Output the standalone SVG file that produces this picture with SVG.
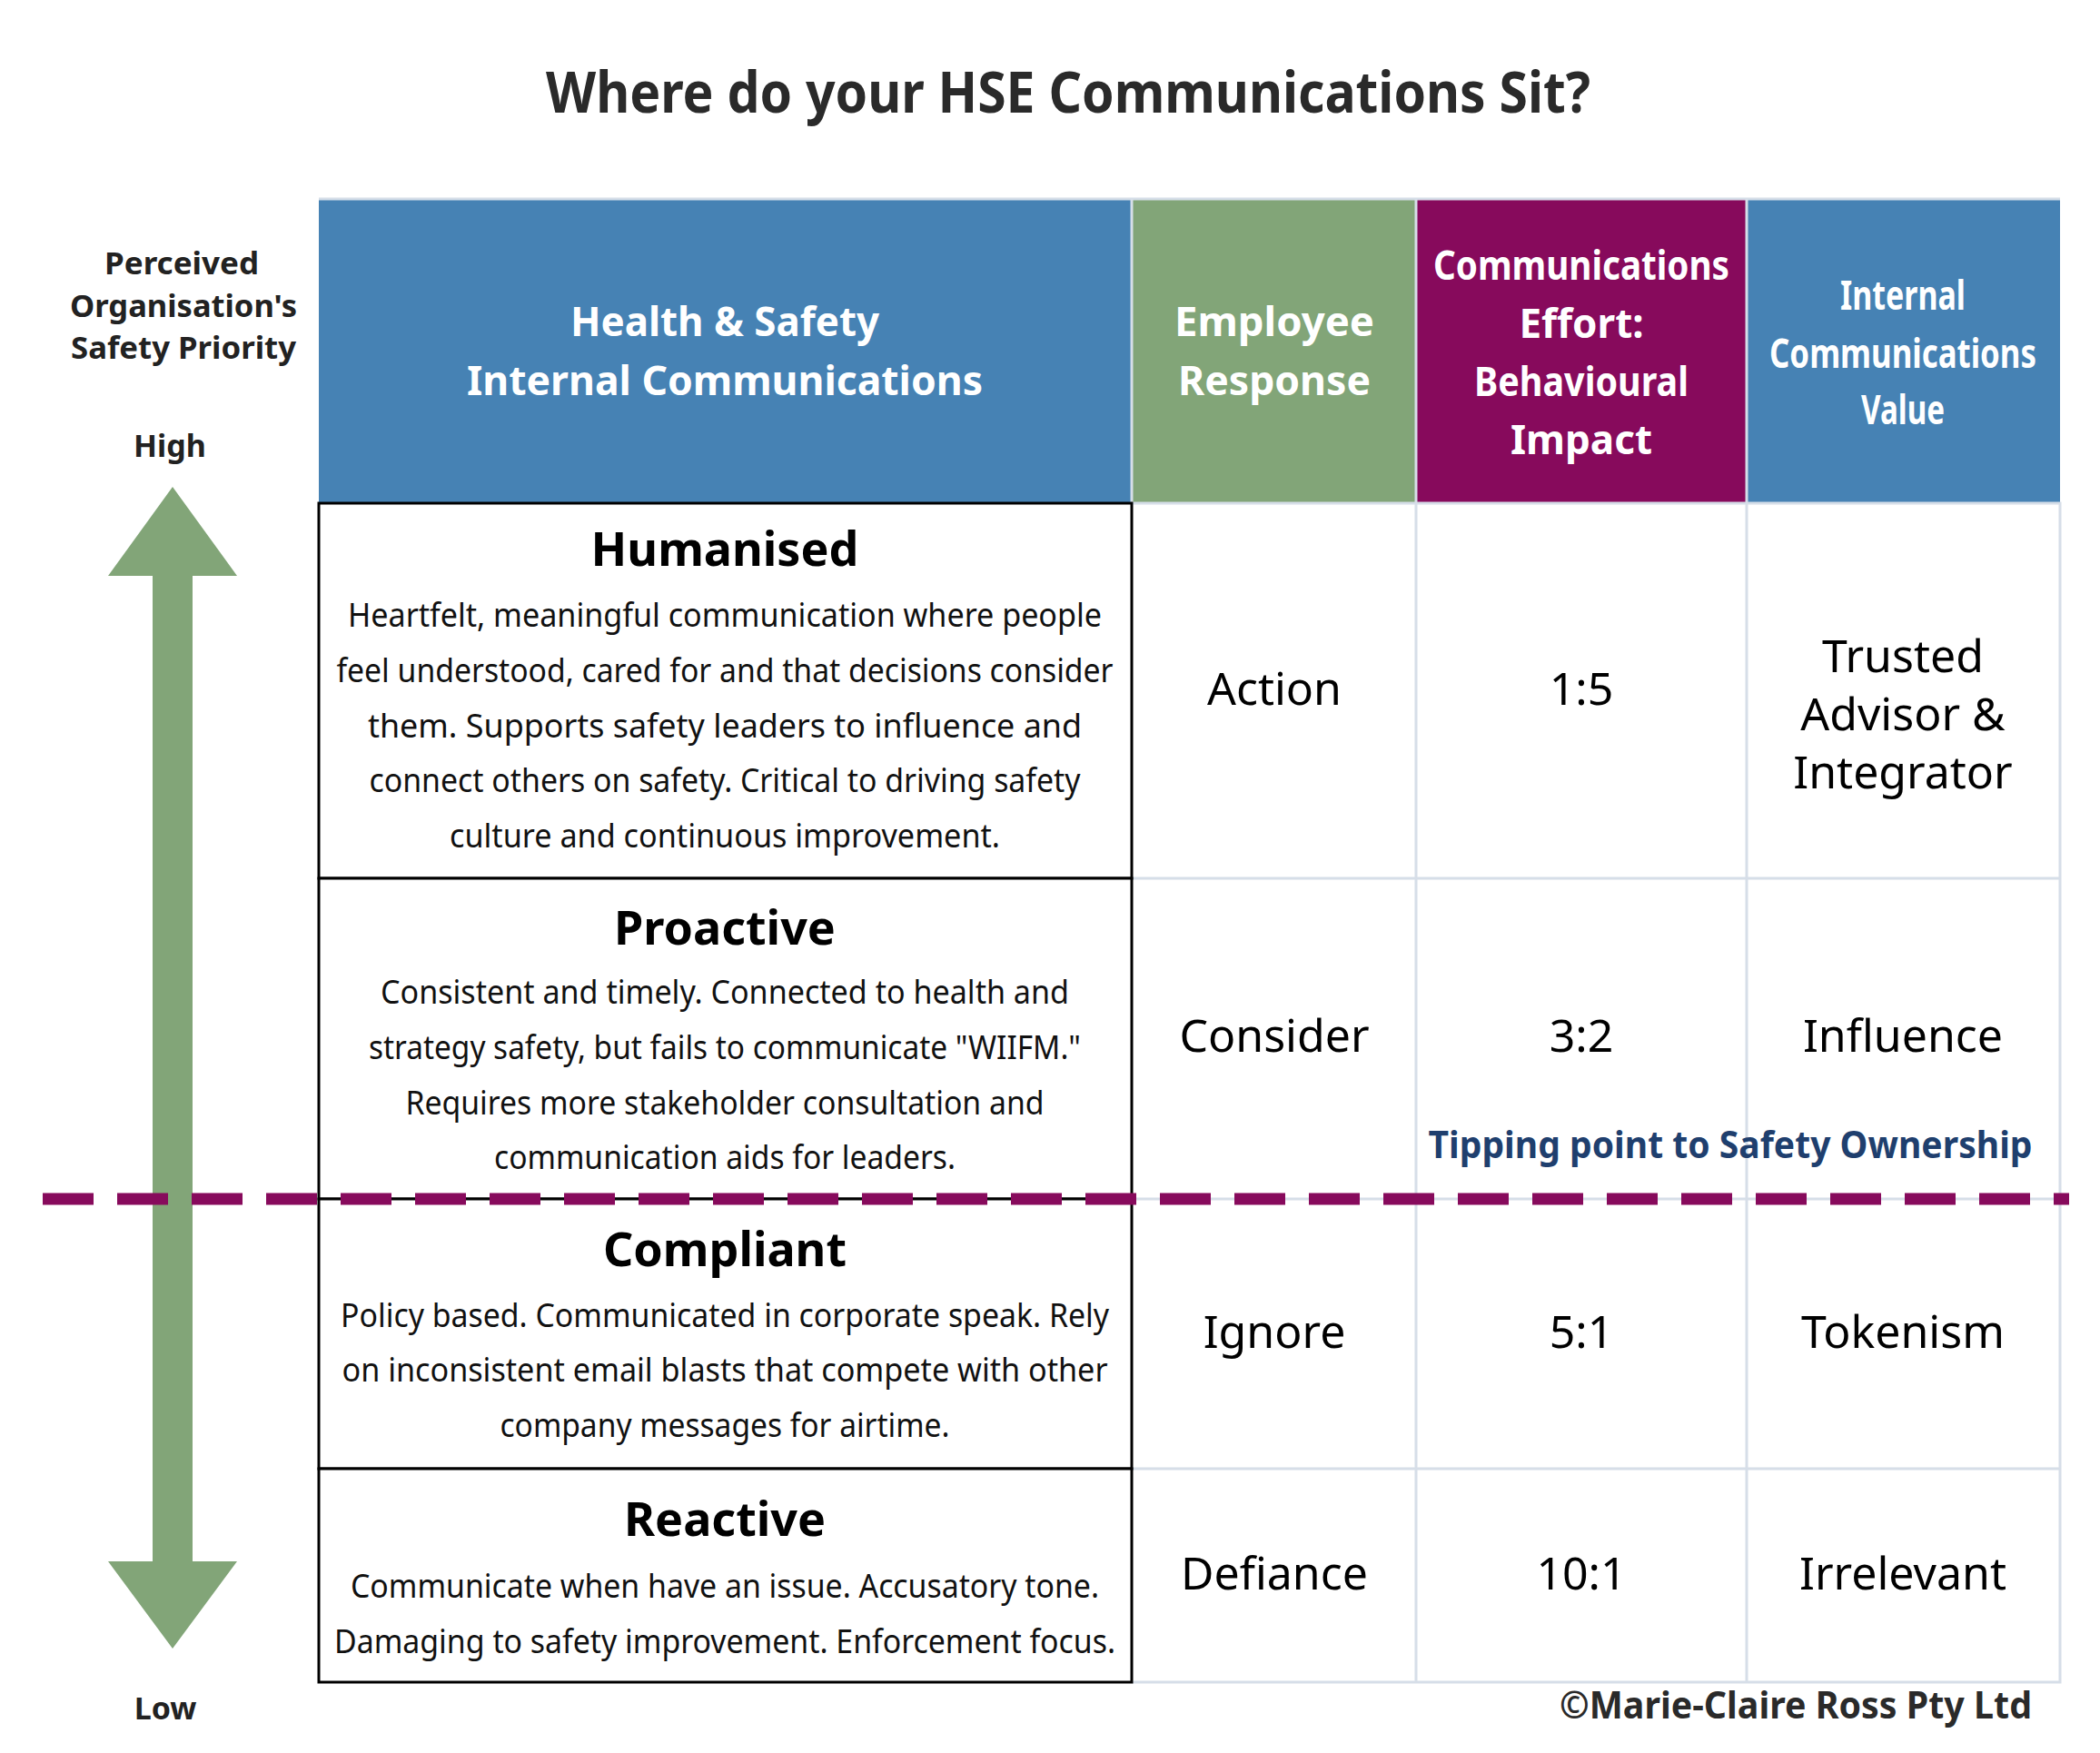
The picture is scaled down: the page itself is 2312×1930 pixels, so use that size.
<svg xmlns="http://www.w3.org/2000/svg" width="2312" height="1930" viewBox="0 0 2312 1930">
<style>
text{font-family:"Noto Sans","Open Sans",sans-serif;text-anchor:middle}
.b{font-weight:bold}
.hd{font-weight:bold;fill:#fff;font-size:44px}
.body{font-size:36px;fill:#111}
.ttl{font-size:52px;font-weight:bold;fill:#000}
.val{font-size:50px;fill:#000}
.grid{fill:none;stroke:#D6DEE8;stroke-width:3}
.box{fill:#fff;stroke:#000;stroke-width:3}
.side{font-size:34px;font-weight:bold;fill:#222}
</style>
<rect width="2312" height="1930" fill="#fff"/>
<text x="1176" y="124" class="b" font-size="62" fill="#2a2a2a" textLength="1150" lengthAdjust="spacingAndGlyphs">Where do your HSE Communications Sit?</text>

<g id="axis">
<text x="200" y="302" class="side" textLength="170" lengthAdjust="spacingAndGlyphs">Perceived</text>
<text x="202" y="349" class="side" textLength="250" lengthAdjust="spacingAndGlyphs">Organisation's</text>
<text x="202" y="395" class="side" textLength="248" lengthAdjust="spacingAndGlyphs">Safety Priority</text>
<text x="187" y="503" class="side" font-size="42">High</text>
<text x="182" y="1893" class="side" font-size="42">Low</text>
<polygon points="190,536 261,634 212,634 212,1719 261,1719 190,1815 119,1719 168,1719 168,634 119,634" fill="#82A578"/>
</g>

<g id="header">
<rect x="351" y="219" width="895" height="335" fill="#4682B4"/>
<rect x="1246" y="219" width="313" height="335" fill="#82A578"/>
<rect x="1559" y="219" width="364" height="335" fill="#870A5C"/>
<rect x="1923" y="219" width="345" height="335" fill="#4682B4"/>
<path d="M1246 219V554M1559 219V554M1923 219V554M351 219H2268" stroke="#D6DEE8" stroke-width="3"/>
<text x="798" y="370" class="hd" textLength="340" lengthAdjust="spacingAndGlyphs">Health &amp; Safety</text>
<text x="798" y="435" class="hd" textLength="568" lengthAdjust="spacingAndGlyphs">Internal Communications</text>
<text x="1403" y="370" class="hd" textLength="220" lengthAdjust="spacingAndGlyphs">Employee</text>
<text x="1403" y="435" class="hd" textLength="212" lengthAdjust="spacingAndGlyphs">Response</text>
<text x="1741" y="308" class="hd" font-size="40" textLength="326" lengthAdjust="spacingAndGlyphs">Communications</text>
<text x="1741" y="372" class="hd" font-size="41">Effort:</text>
<text x="1741" y="436" class="hd" font-size="41" textLength="236" lengthAdjust="spacingAndGlyphs">Behavioural</text>
<text x="1741" y="500" class="hd" font-size="41">Impact</text>
<text x="2095" y="341" class="hd" font-size="34" textLength="138" lengthAdjust="spacingAndGlyphs">Internal</text>
<text x="2095" y="405" class="hd" font-size="34" textLength="294" lengthAdjust="spacingAndGlyphs">Communications</text>
<text x="2095" y="467" class="hd" font-size="34" textLength="92" lengthAdjust="spacingAndGlyphs">Value</text>
</g>

<g id="grid">
<path class="grid" d="M1246 554H2268V1852H1246M1559 554V1852M1923 554V1852M1246 967H2268M1246 1320H2268M1246 1617H2268"/>
</g>

<g id="humanised">
<rect class="box" x="351" y="554" width="895" height="413"/>
<text x="798" y="623" class="ttl">Humanised</text>
<text x="798" y="690" class="body" textLength="830" lengthAdjust="spacingAndGlyphs">Heartfelt, meaningful communication where people</text>
<text x="798" y="751" class="body" textLength="855" lengthAdjust="spacingAndGlyphs">feel understood, cared for and that decisions consider</text>
<text x="798" y="812" class="body" textLength="786" lengthAdjust="spacingAndGlyphs">them. Supports safety leaders to influence and</text>
<text x="798" y="872" class="body" textLength="783" lengthAdjust="spacingAndGlyphs">connect others on safety. Critical to driving safety</text>
<text x="798" y="933" class="body" textLength="606" lengthAdjust="spacingAndGlyphs">culture and continuous improvement.</text>
<text x="1403" y="776" class="val">Action</text>
<text x="1741" y="776" class="val" font-size="47">1:5</text>
<text x="2095" y="740" class="val">Trusted</text>
<text x="2095" y="804" class="val">Advisor &amp;</text>
<text x="2095" y="868" class="val">Integrator</text>
</g>

<g id="proactive">
<rect class="box" x="351" y="967" width="895" height="353"/>
<text x="798" y="1040" class="ttl">Proactive</text>
<text x="798" y="1105" class="body" textLength="758" lengthAdjust="spacingAndGlyphs">Consistent and timely. Connected to health and</text>
<text x="798" y="1166" class="body" textLength="784" lengthAdjust="spacingAndGlyphs">strategy safety, but fails to communicate "WIIFM."</text>
<text x="798" y="1227" class="body" textLength="703" lengthAdjust="spacingAndGlyphs">Requires more stakeholder consultation and</text>
<text x="798" y="1287" class="body" textLength="508" lengthAdjust="spacingAndGlyphs">communication aids for leaders.</text>
<text x="1403" y="1158" class="val">Consider</text>
<text x="1741" y="1158" class="val" font-size="47">3:2</text>
<text x="2095" y="1158" class="val">Influence</text>
</g>

<g id="compliant">
<rect class="box" x="351" y="1320" width="895" height="297"/>
<text x="798" y="1394" class="ttl">Compliant</text>
<text x="798" y="1461" class="body" textLength="846" lengthAdjust="spacingAndGlyphs">Policy based. Communicated in corporate speak. Rely</text>
<text x="798" y="1521" class="body" textLength="843" lengthAdjust="spacingAndGlyphs">on inconsistent email blasts that compete with other</text>
<text x="798" y="1582" class="body" textLength="495" lengthAdjust="spacingAndGlyphs">company messages for airtime.</text>
<text x="1403" y="1484" class="val">Ignore</text>
<text x="1741" y="1484" class="val" font-size="47">5:1</text>
<text x="2095" y="1484" class="val">Tokenism</text>
</g>

<g id="reactive">
<rect class="box" x="351" y="1617" width="895" height="235"/>
<text x="798" y="1691" class="ttl">Reactive</text>
<text x="798" y="1759" class="body" textLength="824" lengthAdjust="spacingAndGlyphs">Communicate when have an issue. Accusatory tone.</text>
<text x="798" y="1820" class="body" textLength="860" lengthAdjust="spacingAndGlyphs">Damaging to safety improvement. Enforcement focus.</text>
<text x="1403" y="1750" class="val">Defiance</text>
<text x="1741" y="1750" class="val" font-size="47">10:1</text>
<text x="2095" y="1750" class="val">Irrelevant</text>
</g>

<g id="connectors">
<line x1="47" y1="1320" x2="2278" y2="1320" stroke="#870A5C" stroke-width="13" stroke-dasharray="56 26"/>
</g>
<text x="1905" y="1275" class="b" font-size="42" fill="#1F3F6E" textLength="665" lengthAdjust="spacingAndGlyphs">Tipping point to Safety Ownership</text>
<text x="2237" y="1892" class="b" font-size="42" fill="#2a2a2a" style="text-anchor:end" textLength="520" lengthAdjust="spacingAndGlyphs">©Marie-Claire Ross Pty Ltd</text>
</svg>
